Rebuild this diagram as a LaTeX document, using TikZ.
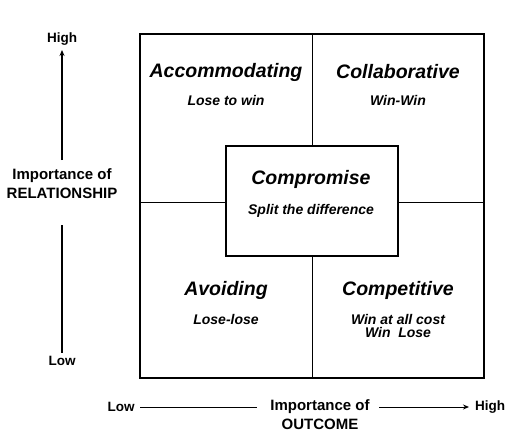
\documentclass[tikz,border=0pt]{standalone}
\usepackage{fontspec}
\setmainfont{Liberation Sans}
\usetikzlibrary{arrows.meta}
\begin{document}
\begin{tikzpicture}[x=1pt,y=-1pt,
  title/.style={font=\bfseries\itshape\fontsize{19.5}{22}\selectfont},
  sub/.style={font=\bfseries\itshape\fontsize{14}{15}\selectfont,align=center},
  axis/.style={font=\bfseries\fontsize{15}{19}\selectfont,align=center},
  ends/.style={font=\bfseries\fontsize{13.5}{15}\selectfont},
  arr/.style={line width=1.3pt,-{Stealth[length=6pt,width=5pt]}},
  ln/.style={line width=1.3pt}]
\useasboundingbox (0,0) rectangle (520,439);
% outer grid
\draw[line width=1pt] (312,34) -- (312,378);
\draw[line width=1pt] (140,202) -- (485,202);
\draw[line width=1.6pt] (140,34) rectangle (484,378);
% centre box
\node[draw,line width=1.5pt,fill=white,minimum width=172pt,minimum height=110pt,inner sep=0pt] (cbox) at (312,201) {};
% texts
\node[title] (acc) at (226,72) {Accommodating};
\node[sub] (accs) at (226,100) {Lose to win};
\node[title] (col) at (398,72) {Collaborative};
\node[sub] (cols) at (398,100) {Win-Win};
\node[title] (comp) at (311,179) {Compromise};
\node[sub] (comps) at (311,211) {Split the difference};
\node[title] (avo) at (226,290) {Avoiding};
\node[sub] (avos) at (226,319) {Lose-lose};
\node[title] (cpt) at (398,290) {Competitive};
\node[sub] (cpts) at (398,326) {Win at all cost\\[-2.5pt]Win\ \ Lose};
% left axis
\node[ends] (hiY) at (62,39) {High};
\node[axis] (rel) at (62,184) {Importance of\\RELATIONSHIP};
\node[ends] (loY) at (62,361) {Low};
\coordinate (ya) at (62,160);
\coordinate (yb) at (62,50);
\coordinate (yc) at (62,225);
\coordinate (yd) at (62,353);
\draw[arr] (ya) -- (yb);
\draw[ln] (yc) -- (yd);
% bottom axis
\node[ends] (loX) at (121,407) {Low};
\node[axis] (out) at (320,415) {Importance of\\OUTCOME};
\node[ends] (hiX) at (490,407) {High};
\coordinate (xa) at (140,407);
\coordinate (xb) at (257,407);
\coordinate (xc) at (379,407);
\coordinate (xd) at (469,407);
\draw[line width=1pt] (xa) -- (xb);
\draw[line width=1pt,-{Stealth[length=6pt,width=5pt]}] (xc) -- (xd);
\end{tikzpicture}
\end{document}
